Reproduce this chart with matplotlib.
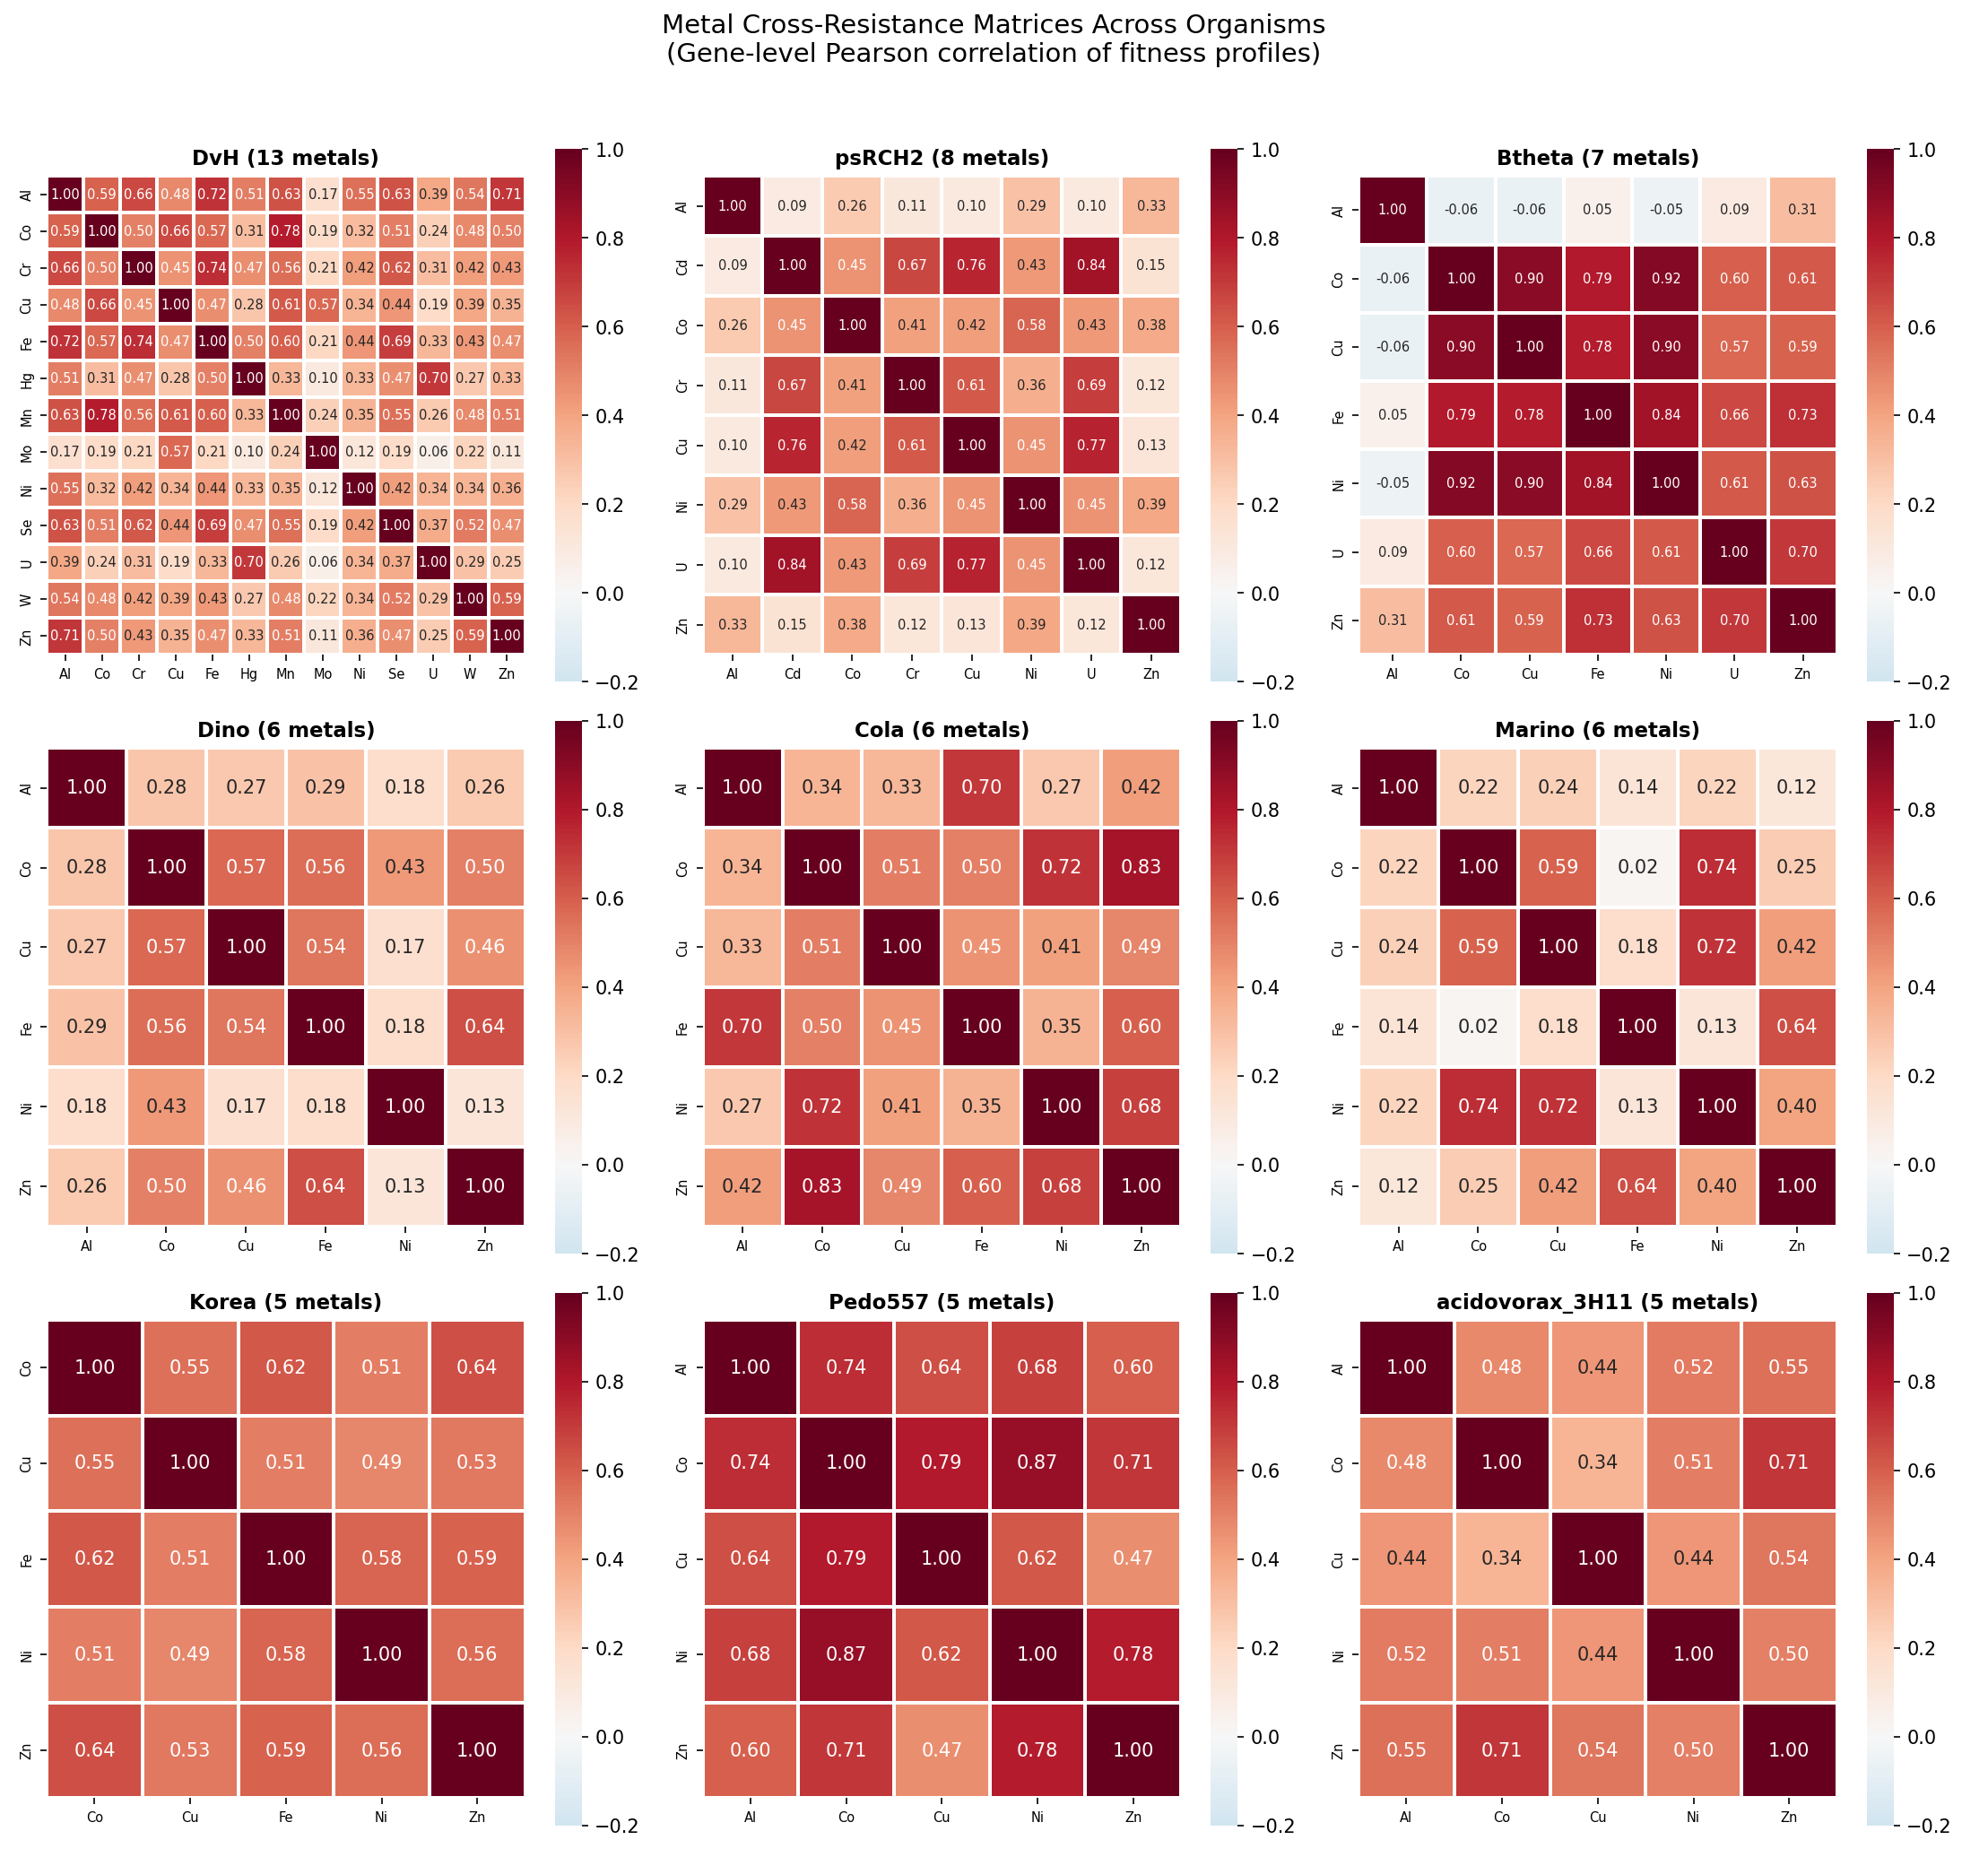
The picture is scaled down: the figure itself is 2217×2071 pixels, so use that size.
import numpy as np
import pandas as pd
import matplotlib
matplotlib.use("Agg")
import matplotlib.pyplot as plt
import seaborn as sns

# Organisms and their metal lists
organisms = ["DvH", "psRCH2", "Btheta", "Dino", "Cola", "Marino",
             "Korea", "Pedo557", "acidovorax_3H11"]

dvh_metals = ["Al", "Co", "Cr", "Cu", "Fe", "Hg", "Mn", "Mo", "Ni", "Se", "U", "W", "Zn"]
dvh_corr = [
    [1.00, 0.59, 0.66, 0.48, 0.72, 0.51, 0.63, 0.17, 0.55, 0.63, 0.39, 0.54, 0.71],
    [0.59, 1.00, 0.50, 0.66, 0.57, 0.31, 0.78, 0.19, 0.32, 0.51, 0.24, 0.48, 0.50],
    [0.66, 0.50, 1.00, 0.45, 0.74, 0.47, 0.56, 0.21, 0.42, 0.62, 0.31, 0.42, 0.43],
    [0.48, 0.66, 0.45, 1.00, 0.47, 0.28, 0.61, 0.57, 0.34, 0.44, 0.19, 0.39, 0.35],
    [0.72, 0.57, 0.74, 0.47, 1.00, 0.50, 0.60, 0.21, 0.44, 0.69, 0.33, 0.43, 0.47],
    [0.51, 0.31, 0.47, 0.28, 0.50, 1.00, 0.33, 0.10, 0.33, 0.47, 0.70, 0.27, 0.33],
    [0.63, 0.78, 0.56, 0.61, 0.60, 0.33, 1.00, 0.24, 0.35, 0.55, 0.26, 0.48, 0.51],
    [0.17, 0.19, 0.21, 0.57, 0.21, 0.10, 0.24, 1.00, 0.12, 0.19, 0.06, 0.22, 0.11],
    [0.55, 0.32, 0.42, 0.34, 0.44, 0.33, 0.35, 0.12, 1.00, 0.42, 0.34, 0.34, 0.36],
    [0.63, 0.51, 0.62, 0.44, 0.69, 0.47, 0.55, 0.19, 0.42, 1.00, 0.37, 0.52, 0.47],
    [0.39, 0.24, 0.31, 0.19, 0.33, 0.70, 0.26, 0.06, 0.34, 0.37, 1.00, 0.29, 0.25],
    [0.54, 0.48, 0.42, 0.39, 0.43, 0.27, 0.48, 0.22, 0.34, 0.52, 0.29, 1.00, 0.59],
    [0.71, 0.50, 0.43, 0.35, 0.47, 0.33, 0.51, 0.11, 0.36, 0.47, 0.25, 0.59, 1.00],
]

psrch2_metals = ["Al", "Cd", "Co", "Cr", "Cu", "Ni", "U", "Zn"]
psrch2_corr = [
    [1.00, 0.09, 0.26, 0.11, 0.10, 0.29, 0.10, 0.33],
    [0.09, 1.00, 0.45, 0.67, 0.76, 0.43, 0.84, 0.15],
    [0.26, 0.45, 1.00, 0.41, 0.42, 0.58, 0.43, 0.38],
    [0.11, 0.67, 0.41, 1.00, 0.61, 0.36, 0.69, 0.12],
    [0.10, 0.76, 0.42, 0.61, 1.00, 0.45, 0.77, 0.13],
    [0.29, 0.43, 0.58, 0.36, 0.45, 1.00, 0.45, 0.39],
    [0.10, 0.84, 0.43, 0.69, 0.77, 0.45, 1.00, 0.12],
    [0.33, 0.15, 0.38, 0.12, 0.13, 0.39, 0.12, 1.00],
]

btheta_metals = ["Al", "Co", "Cu", "Fe", "Ni", "U", "Zn"]
btheta_corr = [
    [1.00, -0.06, -0.06, 0.05, -0.05, 0.09, 0.31],
    [-0.06, 1.00, 0.90, 0.79, 0.92, 0.60, 0.61],
    [-0.06, 0.90, 1.00, 0.78, 0.90, 0.57, 0.59],
    [0.05, 0.79, 0.78, 1.00, 0.84, 0.66, 0.73],
    [-0.05, 0.92, 0.90, 0.84, 1.00, 0.61, 0.63],
    [0.09, 0.60, 0.57, 0.66, 0.61, 1.00, 0.70],
    [0.31, 0.61, 0.59, 0.73, 0.63, 0.70, 1.00],
]

six_metals = ["Al", "Co", "Cu", "Fe", "Ni", "Zn"]
dino_corr = [
    [1.00, 0.28, 0.27, 0.29, 0.18, 0.26],
    [0.28, 1.00, 0.57, 0.56, 0.43, 0.50],
    [0.27, 0.57, 1.00, 0.54, 0.17, 0.46],
    [0.29, 0.56, 0.54, 1.00, 0.18, 0.64],
    [0.18, 0.43, 0.17, 0.18, 1.00, 0.13],
    [0.26, 0.50, 0.46, 0.64, 0.13, 1.00],
]
cola_corr = [
    [1.00, 0.34, 0.33, 0.70, 0.27, 0.42],
    [0.34, 1.00, 0.51, 0.50, 0.72, 0.83],
    [0.33, 0.51, 1.00, 0.45, 0.41, 0.49],
    [0.70, 0.50, 0.45, 1.00, 0.35, 0.60],
    [0.27, 0.72, 0.41, 0.35, 1.00, 0.68],
    [0.42, 0.83, 0.49, 0.60, 0.68, 1.00],
]
marino_corr = [
    [1.00, 0.22, 0.24, 0.14, 0.22, 0.12],
    [0.22, 1.00, 0.59, 0.02, 0.74, 0.25],
    [0.24, 0.59, 1.00, 0.18, 0.72, 0.42],
    [0.14, 0.02, 0.18, 1.00, 0.13, 0.64],
    [0.22, 0.74, 0.72, 0.13, 1.00, 0.40],
    [0.12, 0.25, 0.42, 0.64, 0.40, 1.00],
]

korea_metals = ["Co", "Cu", "Fe", "Ni", "Zn"]
korea_corr = [
    [1.00, 0.55, 0.62, 0.51, 0.64],
    [0.55, 1.00, 0.51, 0.49, 0.53],
    [0.62, 0.51, 1.00, 0.58, 0.59],
    [0.51, 0.49, 0.58, 1.00, 0.56],
    [0.64, 0.53, 0.59, 0.56, 1.00],
]

five_metals = ["Al", "Co", "Cu", "Ni", "Zn"]
pedo_corr = [
    [1.00, 0.74, 0.64, 0.68, 0.60],
    [0.74, 1.00, 0.79, 0.87, 0.71],
    [0.64, 0.79, 1.00, 0.62, 0.47],
    [0.68, 0.87, 0.62, 1.00, 0.78],
    [0.60, 0.71, 0.47, 0.78, 1.00],
]
acido_corr = [
    [1.00, 0.48, 0.44, 0.52, 0.55],
    [0.48, 1.00, 0.34, 0.51, 0.71],
    [0.44, 0.34, 1.00, 0.44, 0.54],
    [0.52, 0.51, 0.44, 1.00, 0.50],
    [0.55, 0.71, 0.54, 0.50, 1.00],
]

panels = [
    (dvh_metals, dvh_corr),
    (psrch2_metals, psrch2_corr),
    (btheta_metals, btheta_corr),
    (six_metals, dino_corr),
    (six_metals, cola_corr),
    (six_metals, marino_corr),
    (korea_metals, korea_corr),
    (five_metals, pedo_corr),
    (five_metals, acido_corr),
]

fig, axes = plt.subplots(3, 3, figsize=(14.78, 13.81))

for ax, name, (metals, corr) in zip(axes.flat, organisms, panels):
    df = pd.DataFrame(corr, index=metals, columns=metals)
    n = len(metals)
    annot_size = 7 if n > 6 else 10
    sns.heatmap(df, ax=ax, annot=True, fmt=".2f", cmap="RdBu_r",
                center=0, vmin=-0.2, vmax=1.0, square=True,
                linewidths=1, linecolor="white",
                annot_kws={"size": annot_size})
    ax.set_title(f"{name} ({n} metals)", fontsize=11, fontweight="bold")
    ax.tick_params(labelsize=7)

fig.suptitle("Metal Cross-Resistance Matrices Across Organisms\n"
             "(Gene-level Pearson correlation of fitness profiles)",
             fontsize=14, y=0.993)
plt.tight_layout(rect=[0, 0, 1, 0.975])
plt.savefig("out.png", dpi=150)
